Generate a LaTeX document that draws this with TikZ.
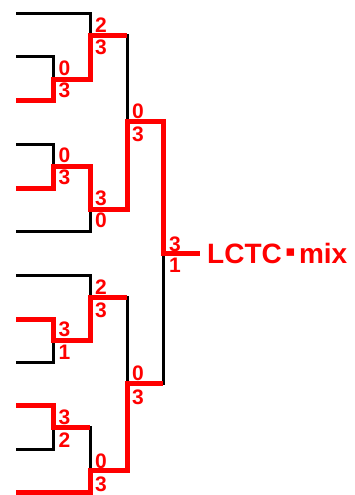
\documentclass[tikz,border=0pt]{standalone}
\usepackage{fontspec}
\setmainfont{Liberation Sans}
\newfontfamily\symfont{DejaVu Sans}
\usetikzlibrary{calc}
\tikzset{
  loser/.style={draw=black, line width=3pt},
  winner/.style={draw=red, line width=5pt, line join=miter},
  score/.style={text=red, inner sep=0pt, font=\bfseries\fontsize{21}{21}\selectfont},
  champ/.style={text=red, inner sep=0pt, anchor=west, font=\bfseries\fontsize{28}{28}\selectfont}
}
\begin{document}
\begin{tikzpicture}[x=1pt, y=-1pt]
\useasboundingbox (0,0) rectangle (355,495);
% leaves
\coordinate (l1) at (16,14);
\coordinate (l2) at (16,57);
\coordinate (l3) at (16,100);
\coordinate (l4) at (16,144);
\coordinate (l5) at (16,188);
\coordinate (l6) at (16,231);
\coordinate (l7) at (16,275);
\coordinate (l8) at (16,319);
\coordinate (l9) at (16,362);
\coordinate (l10) at (16,405);
\coordinate (l11) at (16,449);
\coordinate (l12) at (16,492);
% junctions
\coordinate (a) at (53,79);
\coordinate (b) at (90,36);
\coordinate (c) at (53,166);
\coordinate (d) at (90,209);
\coordinate (e) at (127,121);
\coordinate (g) at (53,340);
\coordinate (f) at (90,297);
\coordinate (h) at (53,427);
\coordinate (i) at (90,470);
\coordinate (j) at (127,383);
\coordinate (k) at (163,253);
\coordinate (w) at (200,253);
% black bracket
\draw[loser] (l2) -| (a) |- (l3);
\draw[loser] (l1) -| (b) |- (a);
\draw[loser] (l4) -| (c) |- (l5);
\draw[loser] (c) -| (d) |- (l6);
\draw[loser] (b) -| (e) |- (d);
\draw[loser] (l8) -| (g) |- (l9);
\draw[loser] (l7) -| (f) |- (g);
\draw[loser] (l10) -| (h) |- (l11);
\draw[loser] (h) -| (i) |- (l12);
\draw[loser] (f) -| (j) |- (i);
\draw[loser] (e) -| (k) |- (j);
% red winners
\draw[winner] (l3) -| (a) -| (b) -- (b -| e);
\draw[winner] (l5) -| (c) -| (d) -| (e) -| (k) -- (w);
\draw[winner] (l8) -| (g) -| (f) -- (f -| j);
\draw[winner] (l10) -| (h) -- (h -| i);
\draw[winner] (l12) -| (i) -| (j) -- (j -| k);
% scores
\node[score] (sa1) at ($(a)+(11.5,-11)$) {0};
\node[score] (sa2) at ($(a)+(11.5,11)$) {3};
\node[score] (sb1) at ($(b)+(11,-11)$) {2};
\node[score] (sb2) at ($(b)+(11,11)$) {3};
\node[score] (sc1) at ($(c)+(11.5,-11)$) {0};
\node[score] (sc2) at ($(c)+(11.5,11)$) {3};
\node[score] (sd1) at ($(d)+(11,-11)$) {3};
\node[score] (sd2) at ($(d)+(11,11)$) {0};
\node[score] (se1) at ($(e)+(11,-10)$) {0};
\node[score] (se2) at ($(e)+(11,13)$) {3};
\node[score] (sg1) at ($(g)+(11.5,-11)$) {3};
\node[score] (sg2) at ($(g)+(11.5,12)$) {1};
\node[score] (sf1) at ($(f)+(11,-10)$) {2};
\node[score] (sf2) at ($(f)+(11,13)$) {3};
\node[score] (sh1) at ($(h)+(11.5,-10)$) {3};
\node[score] (sh2) at ($(h)+(11.5,13)$) {2};
\node[score] (si1) at ($(i)+(11,-9)$) {0};
\node[score] (si2) at ($(i)+(11,14)$) {3};
\node[score] (sj1) at ($(j)+(11,-10)$) {0};
\node[score] (sj2) at ($(j)+(11,14)$) {3};
\node[score] (sk1) at ($(k)+(12,-9)$) {3};
\node[score] (sk2) at ($(k)+(12,12)$) {1};
\node[champ] (name) at ($(w)+(7,0)$) {LCTC\hspace{3.5pt}\raisebox{6.5pt}{\symfont\fontsize{15}{15}\selectfont ▪}\hspace{3.5pt}mix};
\end{tikzpicture}
\end{document}
